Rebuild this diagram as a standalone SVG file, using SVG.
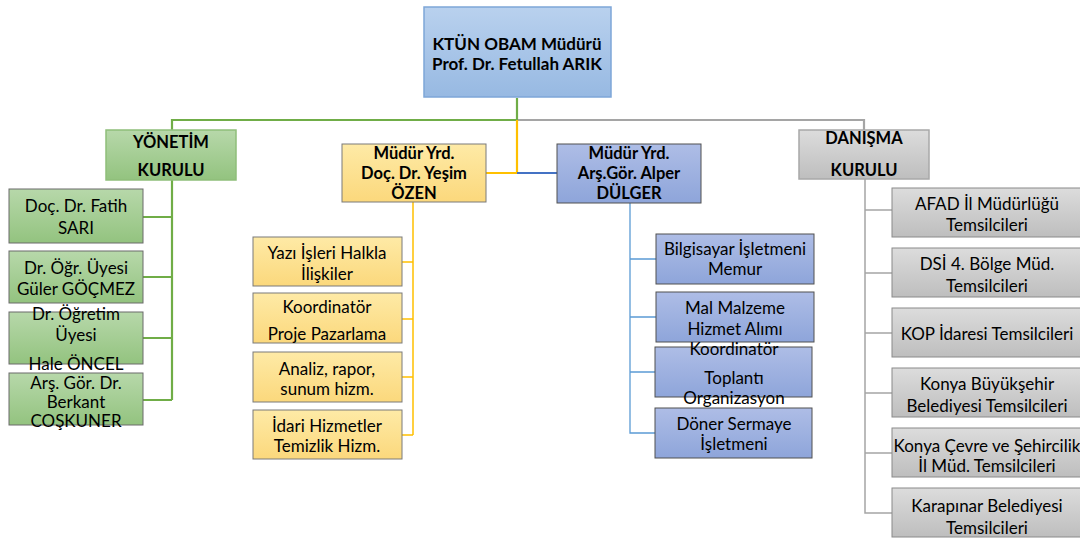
<svg xmlns="http://www.w3.org/2000/svg" width="1080" height="538" viewBox="0 0 1080 538">
<defs>
<linearGradient id="gTop" x1="0" y1="0" x2="0" y2="1"><stop offset="0" stop-color="#b9d1ee"/><stop offset="1" stop-color="#97b9e2"/></linearGradient>
<linearGradient id="gGreen" x1="0" y1="0" x2="0" y2="1"><stop offset="0" stop-color="#b7d8aa"/><stop offset="1" stop-color="#93c37f"/></linearGradient>
<linearGradient id="gYellow" x1="0" y1="0" x2="0" y2="1"><stop offset="0" stop-color="#feeaa6"/><stop offset="1" stop-color="#fbd87c"/></linearGradient>
<linearGradient id="gBlue" x1="0" y1="0" x2="0" y2="1"><stop offset="0" stop-color="#aebde6"/><stop offset="1" stop-color="#8ea5da"/></linearGradient>
<linearGradient id="gGray" x1="0" y1="0" x2="0" y2="1"><stop offset="0" stop-color="#dcdcdc"/><stop offset="1" stop-color="#bebebe"/></linearGradient>
</defs>
<style>
text{font-family:Lato,"Liberation Sans",sans-serif;font-size:17px;fill:#000;text-anchor:middle;dominant-baseline:central}
.b{font-weight:bold;font-size:16.5px}
.h{font-size:17px}
.top{fill:url(#gTop);stroke:#7ea6d8;stroke-width:1.5}
.gr{fill:url(#gGreen);stroke:#6a6a6a;stroke-width:1}
.ye{fill:url(#gYellow);stroke:#7a7a7a;stroke-width:1}
.bl{fill:url(#gBlue);stroke:#505050;stroke-width:1}
.gy{fill:url(#gGray);stroke:#8a8a8a;stroke-width:1}
.grh{fill:url(#gGreen);stroke:#8fbe7a;stroke-width:1.5}
.gyh{fill:url(#gGray);stroke:#a8a8a8;stroke-width:1.5}
.c{fill:none;stroke-width:2.2}
.cg{stroke:#70ad47}.cy{stroke:#ffc000}.cb{stroke:#4472c4}.cl{stroke:#5b9bd5;stroke-width:1.3}.cgy{stroke:#a5a5a5}
</style>
<g id="connectors">
<path class="c cgy" d="M517 120 H864 V130"/>
<path class="c cg" d="M517 98 V120 H172 V130"/>
<path class="c cy" d="M517 120 V173 H486"/>
<path class="c cb" d="M517 173 H557"/>
<path class="c cg" d="M172 180 V400 M143 217 H172 M143 277 H172 M143 338 H172 M143 400 H172"/>
<path class="c cy" style="stroke-width:1.5" d="M413 202 V435 M402 262 H413 M402 319 H413 M402 377 H413 M402 435 H413"/>
<path class="c cl" d="M630 203 V433 H655 M630 259 H656 M630 317 H656 M630 372 H655"/>
<path class="c cgy" style="stroke-width:1.5" d="M865 179 V513 H892 M865 210 H892 M865 273 H892 M865 333 H892 M865 393 H892 M865 453 H892"/>
</g>
<g id="n-top"><rect class="top" x="424" y="7" width="187" height="90"/><text class="b h" x="517" y="43">KTÜN OBAM Müdürü</text><text class="b h" x="517" y="63">Prof. Dr. Fetullah ARIK</text></g>
<g id="n-yonetim"><rect class="grh" x="106" y="130" width="130" height="50"/><text class="b" x="171" y="142">YÖNETİM</text><text class="b" x="171" y="170">KURULU</text></g>
<g id="n-ozen"><rect class="ye" x="342" y="144" width="144" height="58"/><text class="b" x="414" y="153">Müdür Yrd.</text><text class="b" x="414" y="173">Doç. Dr. Yeşim</text><text class="b" x="414" y="193">ÖZEN</text></g>
<g id="n-dulger"><rect class="bl" x="557" y="144" width="144" height="59"/><text class="b" x="629" y="153">Müdür Yrd.</text><text class="b" x="629" y="173">Arş.Gör. Alper</text><text class="b" x="629" y="193">DÜLGER</text></g>
<g id="n-danisma"><rect class="gyh" x="799" y="130" width="130" height="49"/><text class="b" x="864" y="138">DANIŞMA</text><text class="b" x="864" y="170">KURULU</text></g>

<g id="n-g1"><rect class="gr" x="9" y="189" width="134" height="54"/><text x="76" y="205">Doç. Dr. Fatih</text><text x="76" y="227">SARI</text></g>
<g id="n-g2"><rect class="gr" x="9" y="251" width="134" height="52"/><text x="76" y="267">Dr. Öğr. Üyesi</text><text x="76" y="288">Güler GÖÇMEZ</text></g>
<g id="n-g3"><rect class="gr" x="9" y="312" width="134" height="52"/><text x="76" y="313">Dr. Öğretim</text><text x="76" y="334">Üyesi</text><text x="76" y="363">Hale ÖNCEL</text></g>
<g id="n-g4"><rect class="gr" x="9" y="373" width="134" height="52"/><text x="76" y="382">Arş. Gör. Dr.</text><text x="76" y="401">Berkant</text><text x="76" y="420">COŞKUNER</text></g>

<g id="n-y1"><rect class="ye" x="253" y="237" width="149" height="49"/><text x="327" y="252">Yazı İşleri Halkla</text><text x="327" y="273">İlişkiler</text></g>
<g id="n-y2"><rect class="ye" x="253" y="293" width="149" height="50"/><text x="327" y="306">Koordinatör</text><text x="327" y="333">Proje Pazarlama</text></g>
<g id="n-y3"><rect class="ye" x="253" y="352" width="149" height="50"/><text x="327" y="368">Analiz, rapor,</text><text x="327" y="388">sunum hizm.</text></g>
<g id="n-y4"><rect class="ye" x="253" y="410" width="149" height="49"/><text x="327" y="425">İdari Hizmetler</text><text x="327" y="445">Temizlik Hizm.</text></g>

<g id="n-b1"><rect class="bl" x="656" y="234" width="158" height="50"/><text x="735" y="248">Bilgisayar İşletmeni</text><text x="735" y="268">Memur</text></g>
<g id="n-b2"><rect class="bl" x="656" y="292" width="158" height="50"/><text x="735" y="307">Mal Malzeme</text><text x="735" y="328">Hizmet Alımı</text></g>
<g id="n-b3"><rect class="bl" x="655" y="347" width="157" height="50"/><text x="734" y="348">Koordinatör</text><text x="734" y="377">Toplantı</text><text x="734" y="397">Organizasyon</text></g>
<g id="n-b4"><rect class="bl" x="655" y="408" width="157" height="50"/><text x="734" y="423">Döner Sermaye</text><text x="734" y="443">İşletmeni</text></g>

<g id="n-d1"><rect class="gy" x="892" y="188" width="191" height="49"/><text x="987" y="203">AFAD İl Müdürlüğü</text><text x="987" y="224">Temsilcileri</text></g>
<g id="n-d2"><rect class="gy" x="892" y="248" width="191" height="49"/><text x="987" y="263">DSİ 4. Bölge Müd.</text><text x="987" y="285">Temsilcileri</text></g>
<g id="n-d3"><rect class="gy" x="892" y="308" width="191" height="49"/><text x="987" y="333">KOP İdaresi Temsilcileri</text></g>
<g id="n-d4"><rect class="gy" x="892" y="368" width="191" height="49"/><text x="987" y="383">Konya Büyükşehir</text><text x="987" y="405">Belediyesi Temsilcileri</text></g>
<g id="n-d5"><rect class="gy" x="892" y="428" width="191" height="49"/><text x="987" y="445">Konya Çevre ve Şehircilik</text><text x="987" y="465">İl Müd. Temsilcileri</text></g>
<g id="n-d6"><rect class="gy" x="892" y="488" width="191" height="49"/><text x="987" y="505">Karapınar Belediyesi</text><text x="987" y="527">Temsilcileri</text></g>
</svg>
